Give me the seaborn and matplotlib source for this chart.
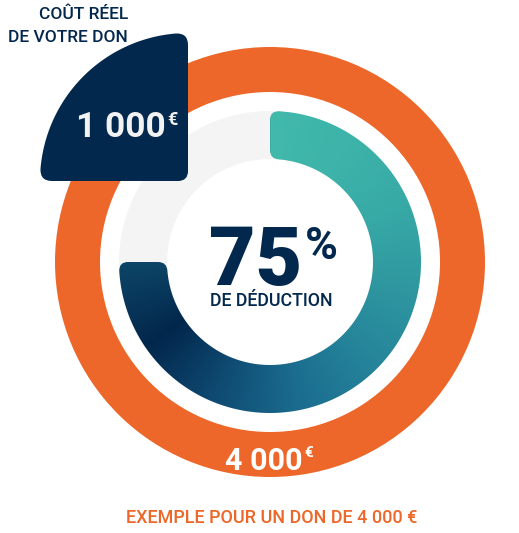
import numpy as np
import matplotlib.pyplot as plt
import seaborn as sns
from matplotlib.patches import Wedge, PathPatch
from matplotlib.path import Path

# Data
montant_don = 4000
cout_reel = 1000
taux_deduction = 75
etiquettes = ['COÛT RÉEL', 'DE VOTRE DON', 'DE DÉDUCTION', 'EXEMPLE POUR UN DON DE 4 000 €']

orange = '#ec6729'
navy = '#02284d'
gris = '#f4f4f4'
# couleurs du dégradé, du haut (départ) jusqu'à la gauche (fin)
degrade = ['#41b9ab', '#3db3a9', '#37a9a6', '#2f97a0', '#25849a', '#1b6c8f', '#0f4a72', '#02274c', '#0c4567']

sns.set_theme(style='white')
plt.rcParams['font.family'] = ['Roboto', 'DejaVu Sans']

W, H = 519, 533


def Y(p):
    return H - p


def u(a):
    return np.array([np.cos(np.radians(a)), np.sin(np.radians(a))])


def anneau_arrondi(c, r_in, r_out, a0, a1, rc):
    c = np.asarray(c, float)
    do = np.degrees(rc / r_out)
    di = np.degrees(rc / r_in)
    verts, codes = [], []
    outer = [c + r_out * u(a) for a in np.linspace(a0 + do, a1 - do, 200)]
    verts += outer
    codes += [Path.MOVETO] + [Path.LINETO] * (len(outer) - 1)
    verts += [c + r_out * u(a1), c + (r_out - rc) * u(a1), c + (r_in + rc) * u(a1)]
    codes += [Path.CURVE3, Path.CURVE3, Path.LINETO]
    verts += [c + r_in * u(a1), c + r_in * u(a1 - di)]
    codes += [Path.CURVE3, Path.CURVE3]
    inner = [c + r_in * u(a) for a in np.linspace(a1 - di, a0 + di, 200)]
    verts += inner
    codes += [Path.LINETO] * len(inner)
    verts += [c + r_in * u(a0), c + (r_in + rc) * u(a0), c + (r_out - rc) * u(a0)]
    codes += [Path.CURVE3, Path.CURVE3, Path.LINETO]
    verts += [c + r_out * u(a0), outer[0], outer[0]]
    codes += [Path.CURVE3, Path.CURVE3, Path.CLOSEPOLY]
    return Path(verts, codes)


def secteur_arrondi(c, R, a0, a1, rc, rc_centre):
    c = np.asarray(c, float)
    d = np.degrees(rc / R)
    verts = [c + rc_centre * u(a0), c + (R - rc) * u(a0), c + R * u(a0)]
    codes = [Path.MOVETO, Path.LINETO, Path.CURVE3]
    arc = [c + R * u(a) for a in np.linspace(a0 + d, a1 - d, 200)]
    verts += arc
    codes += [Path.CURVE3] + [Path.LINETO] * (len(arc) - 1)
    verts += [c + R * u(a1), c + (R - rc) * u(a1), c + rc_centre * u(a1), c, c + rc_centre * u(a0), c]
    codes += [Path.CURVE3, Path.CURVE3, Path.LINETO, Path.CURVE3, Path.CURVE3, Path.CLOSEPOLY]
    return Path(verts, codes)


fig = plt.figure(figsize=(W / 100, H / 100), dpi=100)
ax = fig.add_axes([0, 0, 1, 1])

centre = np.array([270, Y(262)])

# anneau orange : le don complet
ax.add_patch(Wedge(centre, 215, 0, 360, width=45, color=orange, lw=0, zorder=1))
# anneau gris de fond
ax.add_patch(Wedge(centre, 151, 0, 360, width=48, color=gris, lw=0, zorder=1))

# arc dégradé : part déduite
balayage = 360 * taux_deduction / 100
chemin = anneau_arrondi(centre, 103, 151, 90 - balayage, 90, 9)
patch = PathPatch(chemin, facecolor='none', edgecolor='none', zorder=0)
ax.add_patch(patch)
xs = np.linspace(centre[0] - 155, centre[0] + 155, 500)
ys = np.linspace(centre[1] - 155, centre[1] + 155, 500)
X, Yg = np.meshgrid(xs, ys)
theta = np.degrees(np.arctan2(Yg - centre[1], X - centre[0]))
s = ((90 - theta) % 360) / balayage
cmap = sns.blend_palette(degrade, as_cmap=True)
im = ax.imshow(s, origin='lower', extent=[xs[0], xs[-1], ys[0], ys[-1]], cmap=cmap,
               vmin=0, vmax=1, aspect='auto', interpolation='bilinear', zorder=2)
im.set_clip_path(patch)

# secteur bleu marine : coût réel
part = 360 * cout_reel / montant_don
ax.add_patch(PathPatch(secteur_arrondi([188, Y(181)], 148, 90, 90 + part, 12, 10),
                       facecolor=navy, edgecolor='none', zorder=3))

# textes
ax.text(128, Y(14), etiquettes[0], ha='right', va='center', fontsize=12.5, color=navy, fontweight='medium')
ax.text(128, Y(37), etiquettes[1], ha='right', va='center', fontsize=12.5, color=navy, fontweight='medium')

ax.text(166, Y(137), f'{cout_reel:,}'.replace(',', ' '), ha='right', va='baseline',
        fontsize=25.5, color='#f2f2f2', fontweight='bold', zorder=4)
ax.text(167, Y(111), '€', ha='left', va='top', fontsize=13, color='#f2f2f2', fontweight='bold', zorder=4)

ax.text(302, Y(285), f'{taux_deduction}', ha='right', va='baseline', fontsize=58, color=navy,
        fontweight='black', zorder=4)
ax.text(305, Y(226), '%', ha='left', va='top', fontsize=32, color=navy, fontweight='bold', zorder=4)
ax.text(271, Y(301), etiquettes[2], ha='center', va='center', fontsize=12.8, color=navy,
        fontweight='medium', zorder=4)

ax.text(303, Y(470), f'{montant_don:,}'.replace(',', ' '), ha='right', va='baseline',
        fontsize=22, color='white', fontweight='bold', zorder=4)
ax.text(304, Y(446), '€', ha='left', va='top', fontsize=11, color='white', fontweight='bold', zorder=4)

ax.text(272, Y(518), etiquettes[3], ha='center', va='center', fontsize=13, color=orange,
        fontweight='medium')

ax.set_xlim(0, W)
ax.set_ylim(0, H)
ax.axis('off')
fig.savefig('out.png', dpi=100)
